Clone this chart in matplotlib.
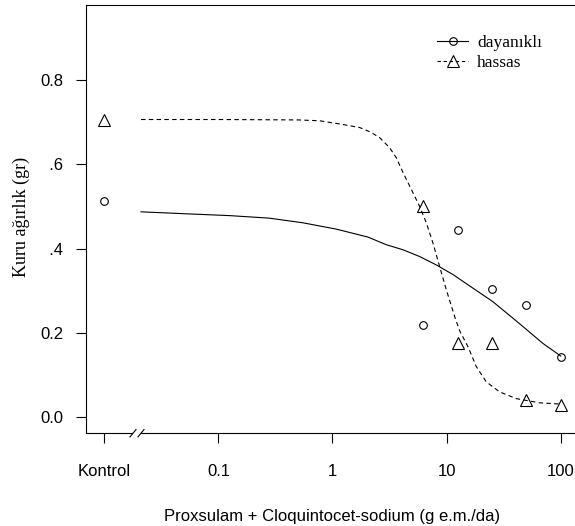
import numpy as np
import matplotlib
matplotlib.use('Agg')
import matplotlib.pyplot as plt
from matplotlib.lines import Line2D
from matplotlib.patches import Rectangle

SANS = 'Liberation Sans'
SERIF = 'Liberation Serif'
plt.rcParams['font.family'] = SANS

# Observed data (dose 0 = Kontrol, drawn at 0.01 on the log axis)
CONTROL_POS = 0.01
doses = [0, 6.25, 12.5, 25, 50, 100]
dayanikli = [0.513, 0.219, 0.443, 0.305, 0.266, 0.143]
hassas = [0.705, 0.500, 0.175, 0.175, 0.040, 0.028]

# Fitted curves
fit_x_day = [0.021, 0.056, 0.126, 0.28, 0.55, 1.08, 2.05, 2.96, 4.15, 5.8,
             8.13, 11.4, 17, 25.4, 38, 46.6, 69.7, 100]
fit_y_day = [0.487, 0.482, 0.478, 0.472, 0.461, 0.446, 0.427, 0.409, 0.397, 0.381,
             0.361, 0.338, 0.306, 0.274, 0.235, 0.215, 0.175, 0.145]
fit_x_has = [0.021, 0.1, 0.5, 0.77, 1.24, 1.73, 2.12, 2.59, 3.17, 3.63, 4.15,
             4.91, 5.8, 6.64, 7.59, 8.69, 9.94, 10.6, 11.75, 13.0, 15.4, 18.2,
             22.2, 29.1, 40.7, 65, 100]
fit_y_has = [0.706, 0.706, 0.705, 0.703, 0.694, 0.687, 0.677, 0.663, 0.639, 0.615, 0.580,
             0.540, 0.500, 0.461, 0.413, 0.357, 0.302, 0.278, 0.239, 0.205, 0.167, 0.120,
             0.084, 0.060, 0.044, 0.034, 0.031]

xtick_pos = [0.01, 0.1, 1, 10, 100]
xtick_lab = ['Kontrol', '0.1', '1', '10', '100']
ytick_pos = [0.0, 0.2, 0.4, 0.6, 0.8]

W, H = 575, 526
fig = plt.figure(figsize=(W / 100, H / 100), dpi=100)
fig.patch.set_facecolor('white')

# axes box in pixels: left 86, right 579 (just past the edge), top 5, bottom 433
ax = fig.add_axes([86 / W, (H - 433) / H, (579 - 86) / W, (433 - 5) / H])
ax.set_xscale('log')
ax.set_xlim(10 ** -2.16, 10 ** 2.16)
ax.set_ylim(-0.0376, 0.9776)

xs = [CONTROL_POS if d == 0 else d for d in doses]
ax.plot(fit_x_day, fit_y_day, color='black', lw=0.8, ls='-')
ax.plot(fit_x_has, fit_y_has, color='black', lw=0.8, ls=(0, (4, 3)))
ax.plot(xs, dayanikli, ls='none', marker='o', ms=5.5, mfc='none', mec='black', mew=0.8)
ax.plot(xs, hassas, ls='none', marker='^', ms=8, mfc='none', mec='black', mew=0.8)

ax.set_xticks(xtick_pos)
ax.set_xticklabels(xtick_lab)
ax.xaxis.set_minor_locator(matplotlib.ticker.NullLocator())
ax.set_yticks(ytick_pos)
ax.set_yticklabels([f'{v:.1f}' for v in ytick_pos])
ax.tick_params(axis='x', length=7, width=0.8, pad=15, labelsize=12)
ax.tick_params(axis='y', length=7, width=0.8, pad=9, labelsize=12)
for s in ax.spines.values():
    s.set_linewidth(0.8)

ax.set_xlabel('Proxsulam + Cloquintocet-sodium (g e.m./da)', fontsize=12, labelpad=22)

# axis break on the bottom spine
def px(x):
    return (x - 86) / (579 - 86)

ax.add_patch(Rectangle((px(133), -0.02), px(141) - px(133), 0.04, transform=ax.transAxes,
                       facecolor='white', edgecolor='none', clip_on=False, zorder=5))
for cx in (133, 141):
    ax.add_line(Line2D([px(cx - 3), px(cx + 3)], [-0.009, 0.008], transform=ax.transAxes,
                       color='black', lw=0.8, clip_on=False, zorder=6))

handles = [Line2D([], [], color='black', lw=0.8, ls='-', marker='o', ms=5.5,
                  mfc='none', mec='black', mew=0.8),
           Line2D([], [], color='black', lw=0.8, ls=(0, (3, 2.5)), marker='^', ms=8,
                  mfc='none', mec='black', mew=0.8)]
ax.legend(handles, ['dayanıklı', 'hassas'], loc='upper left',
          bbox_to_anchor=(px(437), (433 - 35) / 428), frameon=False,
          prop={'family': SERIF, 'size': 12.5}, handlelength=1.8, handletextpad=0.5,
          labelspacing=0.2, borderpad=0, borderaxespad=0, numpoints=1)

# y label pasted over the axis labels on a white patch
fig.patches.append(Rectangle((6 / W, (H - 292) / H), 44 / W, 142 / H,
                             transform=fig.transFigure, facecolor='white',
                             edgecolor='none', zorder=2))
fig.text(21 / W, (H - 217) / H, 'Kuru ağırlık (gr)', rotation=90, ha='center', va='center',
         family=SERIF, fontsize=13, zorder=3)

fig.savefig('out.png', dpi=100, facecolor='white')
